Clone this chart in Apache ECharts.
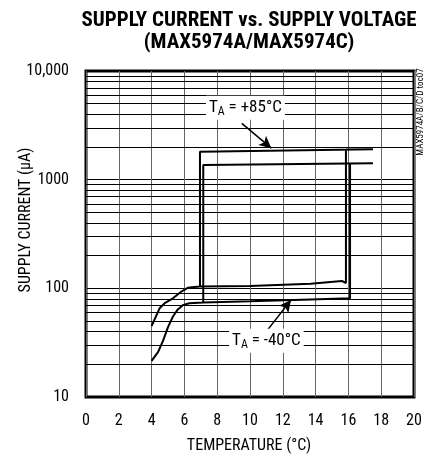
<!DOCTYPE html>
<html>
<head>
<meta charset="utf-8">
<script src="https://cdn.jsdelivr.net/npm/echarts@6/dist/echarts.min.js"></script>
<style>
  html, body { margin: 0; padding: 0; background: #fff; }
  #chart { width: 425px; height: 457px; }
</style>
</head>
<body>
<div id="chart"></div>
<script>
// curve traces [temperature, supply current uA], each one a closed hysteresis path
const hotCurve = [[4, 45], [4.5, 66], [4.8, 73], [5.3, 81], [5.8, 93], [6.2, 101], [6.6, 103], [6.95, 104],
  [10, 105], [13.7, 110], [15.6, 117], [15.85, 112], [15.85, 1890], [17.5, 1905], [6.95, 1810], [6.95, 104]];
const coldCurve = [[4, 21.5], [4.4, 26], [4.7, 33], [5.0, 44], [5.3, 55], [5.6, 64], [5.9, 70], [6.3, 73], [7.15, 74],
  [10, 76], [13.7, 79], [16.1, 81], [16.1, 1407], [17.5, 1413], [7.15, 1361], [7.15, 74]];

// log grid lines between decades
const minorGrid = [20, 30, 40, 50, 60, 70, 80, 90, 200, 300, 400, 500, 600, 700, 800, 900,
  2000, 3000, 4000, 5000, 6000, 7000, 8000, 9000];

// annotation anchors (label position, arrow tail, arrow tip)
const hotLabel = [9.72, 4600];
const hotArrow = [[9.5, 3300], [11.3, 1950]];
const coldLabel = [11.0, 33];
const coldArrow = [[11.05, 41], [12.5, 78]];

const FONT = "'Roboto Condensed', 'Liberation Sans Narrow', 'DejaVu Sans Condensed', sans-serif";

const chart = echarts.init(document.getElementById('chart'));

function taLabel(text) {
  return {
    show: true,
    formatter: '{t|T}{s|A}{t| = ' + text + '}',
    backgroundColor: '#fff',
    padding: [2, 3, 2, 3],
    rich: {
      t: { fontFamily: FONT, fontSize: 17, color: '#000' },
      s: { fontFamily: FONT, fontSize: 12, color: '#000', padding: [8, 0, 0, 0] }
    }
  };
}

const option = {
  animation: false,
  grid: {
    left: 86, right: 11, top: 71, bottom: 60,
    show: true, borderColor: '#000', borderWidth: 3
  },
  xAxis: {
    type: 'value', min: 0, max: 20, interval: 2,
    axisLine: { show: false },
    axisTick: { show: false },
    axisLabel: { color: '#000', fontFamily: FONT, fontSize: 16, margin: 16 },
    splitLine: { show: true, lineStyle: { color: '#666', width: 1 } }
  },
  yAxis: {
    type: 'log', logBase: 10, min: 10, max: 10000,
    axisLine: { show: false },
    axisTick: { show: false },
    axisLabel: {
      color: '#000', fontFamily: FONT, fontSize: 16, margin: 17,
      formatter: v => v === 10000 ? '10,000' : String(v)
    },
    splitLine: { show: true, lineStyle: { color: '#000', width: 1 } }
  },
  graphic: [
    {
      type: 'text', x: 249, y: 10,
      style: {
        text: 'SUPPLY CURRENT vs. SUPPLY VOLTAGE\n(MAX5974A/MAX5974C)',
        align: 'center', fontFamily: FONT, fontWeight: 'bold', fontSize: 21,
        lineHeight: 22, fill: '#000'
      }
    },
    {
      type: 'text', x: 26, y: 220, rotation: Math.PI / 2,
      style: {
        text: 'SUPPLY CURRENT (µA)', align: 'center', verticalAlign: 'middle',
        fontFamily: FONT, fontSize: 16, fill: '#000'
      }
    },
    {
      type: 'text', x: 249, y: 446,
      style: {
        text: 'TEMPERATURE (°C)', align: 'center', verticalAlign: 'middle',
        fontFamily: FONT, fontSize: 16, fill: '#000'
      }
    },
    {
      type: 'text', x: 421, y: 112, rotation: Math.PI / 2,
      style: {
        text: 'MAX5974A/B/C/D toc07', align: 'center', verticalAlign: 'middle',
        fontFamily: FONT, fontSize: 9, fill: '#000'
      }
    }
  ],
  series: [
    {
      name: 'grid', type: 'line', data: [], silent: true,
      markLine: {
        silent: true, symbol: ['none', 'none'], animation: false,
        label: { show: false },
        lineStyle: { color: '#000', width: 1, type: 'solid' },
        data: minorGrid.map(v => ({ yAxis: v }))
      }
    },
    {
      name: 'TA = +85°C', type: 'line', data: hotCurve, showSymbol: false,
      lineStyle: { color: '#000', width: 2 }, z: 5,
      markPoint: {
        symbol: 'rect', symbolSize: 0,
        label: taLabel('+85°C'),
        data: [{ coord: hotLabel }]
      },
      markLine: {
        symbol: ['none', 'arrow'], symbolSize: [9, 12],
        label: { show: false },
        lineStyle: { color: '#000', width: 1.5, type: 'solid' },
        data: [[{ coord: hotArrow[0] }, { coord: hotArrow[1] }]]
      }
    },
    {
      name: 'TA = -40°C', type: 'line', data: coldCurve, showSymbol: false,
      lineStyle: { color: '#000', width: 2 }, z: 5,
      markPoint: {
        symbol: 'rect', symbolSize: 0,
        label: taLabel('-40°C'),
        data: [{ coord: coldLabel }]
      },
      markLine: {
        symbol: ['none', 'arrow'], symbolSize: [9, 12],
        label: { show: false },
        lineStyle: { color: '#000', width: 1.5, type: 'solid' },
        data: [[{ coord: coldArrow[0] }, { coord: coldArrow[1] }]]
      }
    }
  ]
};

chart.setOption(option);
</script>
</body>
</html>
